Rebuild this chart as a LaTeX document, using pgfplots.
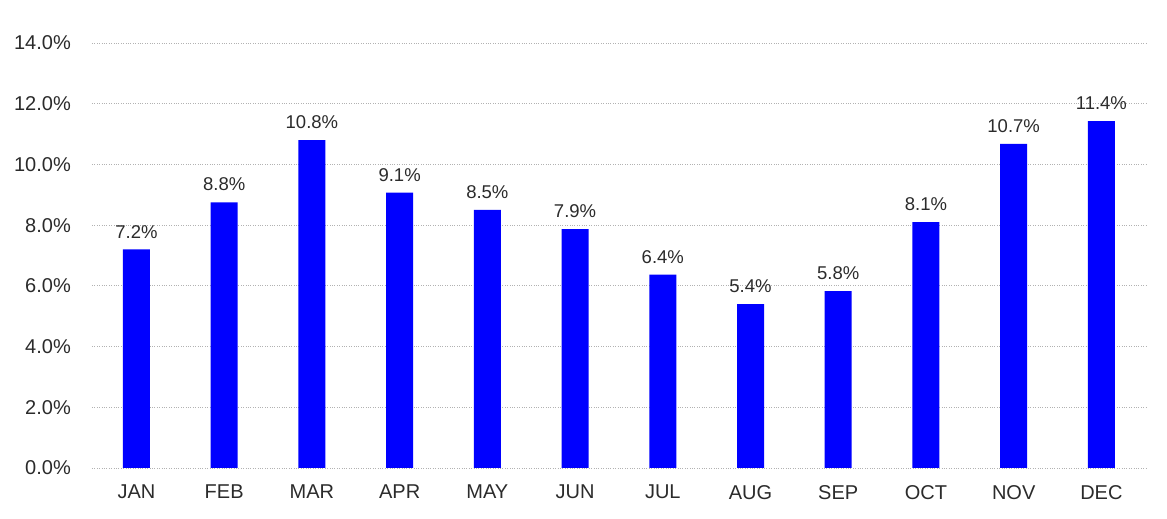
\documentclass[border=0pt]{standalone}
\usepackage{pgfplots}
\pgfplotsset{compat=1.18}
\usepackage{fontspec}
\setmainfont{Liberation Sans}
\definecolor{txt}{HTML}{2B2B2B}
\definecolor{barblue}{RGB}{0,0,255}
\begin{document}
\begin{tikzpicture}
\begin{axis}[
  at={(0,0)}, anchor=south west,
  scale only axis,
  width=1055pt, height=425pt,
  xmin=-0.507, xmax=11.52,
  ymin=0, ymax=14,
  ytick={0,2,4,6,8,10,12,14},
  yticklabels={0.0\%,2.0\%,4.0\%,6.0\%,8.0\%,10.0\%,12.0\%,14.0\%},
  xtick={0,...,11},
  xticklabels={JAN,FEB,MAR,APR,MAY,JUN,JUL,AUG,SEP,OCT,NOV,DEC},
  axis line style={draw=none},
  major tick length=0pt,
  ymajorgrids,
  grid style={draw=black!30, line width=0.8pt, dash pattern=on 0.8pt off 1.6pt},
  tick label style={font=\fontsize{20}{24}\selectfont, text=txt},
  yticklabel style={anchor=east, inner sep=0pt, xshift=-21pt},
  xticklabel style={anchor=north, inner sep=0pt, yshift=-17pt},
  ybar, bar width=27pt,
  point meta=explicit symbolic,
  nodes near coords,
  every node near coord/.append style={font=\fontsize{18.5}{22}\selectfont, text=txt, anchor=south, inner sep=0pt, yshift=11pt},
]
\addplot[fill=barblue, draw=none] coordinates {
(0,7.2) [7.2\%]
(1,8.75) [8.8\%]
(2,10.8) [10.8\%]
(3,9.07) [9.1\%]
(4,8.5) [8.5\%]
(5,7.87) [7.9\%]
(6,6.37) [6.4\%]
(7,5.4) [5.4\%]
(8,5.83) [5.8\%]
(9,8.1) [8.1\%]
(10,10.68) [10.7\%]
(11,11.43) [11.4\%]
};
\end{axis}
\pgfresetboundingbox
\path[use as bounding box] (-92pt,-51pt) rectangle (1075pt,468pt);
\end{tikzpicture}
\end{document}
